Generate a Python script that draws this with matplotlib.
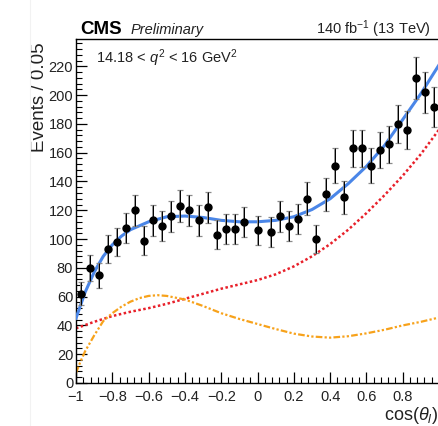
import numpy as np
from matplotlib import pyplot as plt
from matplotlib.ticker import MultipleLocator

plt.rcParams['font.family'] = ['Liberation Sans', 'DejaVu Sans']
plt.rcParams['mathtext.fontset'] = 'custom'
plt.rcParams['mathtext.rm'] = 'Liberation Sans'
plt.rcParams['mathtext.it'] = 'Liberation Sans:italic'

# data points (cos theta_l, events per 0.05)
cos_pts = [-0.975, -0.925, -0.875, -0.825, -0.775, -0.725, -0.675, -0.625, -0.575, -0.525,
           -0.475, -0.425, -0.375, -0.325, -0.275, -0.225, -0.175, -0.125, -0.075, 0.0,
           0.075, 0.125, 0.175, 0.225, 0.275, 0.325, 0.375, 0.425, 0.475, 0.525,
           0.575, 0.625, 0.675, 0.725, 0.775, 0.825, 0.875, 0.925, 0.975]
events = [62, 80, 75, 93, 98, 108, 120, 99, 113, 109,
          116, 123, 120, 113, 122, 103, 107, 107, 112, 106,
          105, 116, 109, 114, 128, 100, 131, 151, 129, 163,
          163, 151, 162, 166, 180, 176, 212, 202, 192]

# fit curves
total_x = [-1.0, -0.95, -0.9, -0.85, -0.8, -0.75, -0.7, -0.6, -0.5, -0.4, -0.3, -0.2,
           -0.1, 0.0, 0.1, 0.2, 0.3, 0.4, 0.5, 0.6, 0.7, 0.8, 0.9, 1.0]
total_y = [45, 63, 77, 88, 96, 102, 106.5, 112, 115.5, 116, 115, 113,
           112, 112, 113, 115.5, 120.5, 128, 138.5, 150.5, 165, 183, 201, 221]

signal_x = [-1.0, -0.9, -0.8, -0.7, -0.6, -0.5, -0.4, -0.3, -0.2, -0.1, 0.0,
            0.1, 0.2, 0.3, 0.4, 0.5, 0.6, 0.7, 0.8, 0.9, 1.0]
signal_y = [38, 42.5, 46.5, 49.5, 52, 55, 58.5, 62, 65.5, 68.5, 71.5,
            75.5, 81, 88, 96.5, 106.5, 118, 130.5, 144, 159, 176]

bkg_x = [-1.0, -0.975, -0.95, -0.9, -0.85, -0.8, -0.75, -0.7, -0.65, -0.6, -0.55, -0.5,
         -0.4, -0.3, -0.2, -0.1, 0.0, 0.1, 0.2, 0.3, 0.4, 0.5, 0.6, 0.7, 0.8, 0.9, 1.0]
bkg_y = [7, 15, 22, 33, 43, 48.5, 53, 56.5, 59, 60.5, 61, 60.5,
         58, 53.5, 48.5, 44.5, 41, 37.5, 34.3, 32.3, 31.5, 32.5, 34.5, 37, 40, 42.5, 45.5]

xticks = [-1, -0.8, -0.6, -0.4, -0.2, 0, 0.2, 0.4, 0.6, 0.8]
xticklabels = ['\u22121', '\u22120.8', '\u22120.6', '\u22120.4', '\u22120.2', '0', '0.2', '0.4', '0.6', '0.8']

fig = plt.figure(figsize=(4.38, 4.26), dpi=100)
fig.add_artist(plt.Line2D([30 / 438, 30 / 438], [0, 1], color='#f2f2f2', lw=0.8))
ax = fig.add_axes([76 / 438, 43 / 426, 363 / 438, 344 / 426])

ax.plot(signal_x, signal_y, color='#e8202a', lw=1.8, linestyle=(0, (1, 1)), zorder=2)
ax.plot(bkg_x, bkg_y, color='#f7a21b', lw=1.6, linestyle=(0, (3, 1, 1, 1, 1, 1)), zorder=2)
ax.plot(total_x, total_y, color='#4a86e8', lw=2.2, zorder=3)

err = np.sqrt(events)
ax.errorbar(cos_pts, events, yerr=err, fmt='none', ecolor='#8a8a8a', elinewidth=1.3,
            capsize=2.5, capthick=0.9, zorder=4)
ax.errorbar(cos_pts, events, yerr=err, fmt='o', color='black', ms=5, ecolor='black',
            elinewidth=0.7, capsize=0, zorder=5)

ax.set_xlim(-1, 1)
ax.set_ylim(0, 239)
ax.set_xticks(xticks)
ax.set_xticklabels(xticklabels)
ax.xaxis.set_minor_locator(MultipleLocator(0.04))
ax.yaxis.set_major_locator(MultipleLocator(20))
ax.yaxis.set_minor_locator(MultipleLocator(4))
ax.tick_params(which='major', direction='in', length=8, width=0.9, labelsize=10.5,
               labelcolor='#222222')
ax.tick_params(axis='y', which='major', pad=2)
ax.tick_params(axis='x', which='major', pad=5)
ax.tick_params(which='minor', direction='in', length=4, width=0.8)
ax.spines['right'].set_visible(False)
for s in ['left', 'bottom', 'top']:
    ax.spines[s].set_linewidth(1.0)

ax.set_ylabel('Events / 0.05', fontsize=13.5, labelpad=3, color='#222222')
ax.yaxis.set_label_coords(-0.077, 0.99, transform=ax.transAxes)
ax.yaxis.label.set_horizontalalignment('right')
ax.set_xlabel(r'cos($\theta_l$)', fontsize=13, labelpad=2, color='#222222')
ax.xaxis.set_label_coords(0.997, -0.065)
ax.xaxis.label.set_horizontalalignment('right')

ax.text(0.055, 0.975, r'14.18 < $q^2$ < 16 GeV$^2$', transform=ax.transAxes,
        fontsize=10.5, va='top', ha='left', color='#222222')
fig.text(80 / 438, 1 - 34 / 426, 'CMS', fontsize=13.5, fontweight='bold', va='baseline')
fig.text(131 / 438, 1 - 34 / 426, 'Preliminary', fontsize=10.5, style='italic', va='baseline',
         color='#222222')
fig.text(431 / 438, 1 - 34 / 426, r'140 fb$^{-1}$ (13 TeV)', fontsize=10.5, ha='right',
         va='baseline', color='#222222')

fig.savefig('out.png', dpi=100)
